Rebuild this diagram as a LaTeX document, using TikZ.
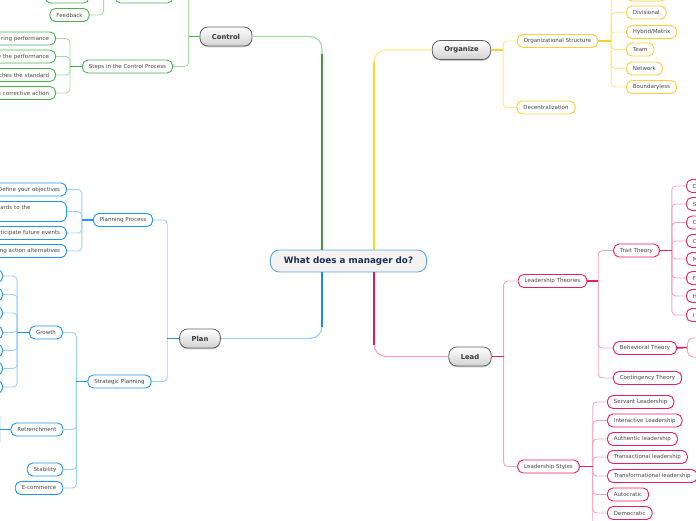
\documentclass[tikz,border=0pt]{standalone}
\usepackage{fontspec}
\setmainfont{DejaVu Sans}
\usepackage{tikz}
\usetikzlibrary{positioning,calc,shadows}

\definecolor{grn}{HTML}{4CAF50}
\definecolor{grnd}{HTML}{3D9B40}
\definecolor{grnl}{HTML}{A9D8A6}
\definecolor{yel}{HTML}{F9CF3A}
\definecolor{yeld}{HTML}{FDD22B}
\definecolor{yell}{HTML}{FDE68D}
\definecolor{blu}{HTML}{2196F3}
\definecolor{blud}{HTML}{1E88E5}
\definecolor{blul}{HTML}{9DD0FA}
\definecolor{pnk}{HTML}{E91E63}
\definecolor{pnkd}{HTML}{E2175C}
\definecolor{pnkl}{HTML}{F5A3C2}
\definecolor{rootblue}{HTML}{5DA5DA}
\definecolor{rootfill}{HTML}{F5F2F2}
\definecolor{rootnavy}{HTML}{1C2D55}

\begin{document}
\begin{tikzpicture}[x=1pt, y=-1pt,
  font=\fontsize{5.5}{6.6}\selectfont,
  rootbox/.style={draw=rootblue, fill=rootfill, line width=0.9pt, rounded corners=9pt, minimum height=22pt, inner xsep=13.5pt, text=rootnavy, font=\fontsize{8.8}{10}\selectfont\bfseries},
  topic/.style={draw=black!62, line width=0.8pt, rounded corners=8pt, top color=white, bottom color=black!18, minimum height=19pt, inner xsep=12pt, text=black!78, font=\fontsize{6.8}{8}\selectfont\bfseries, drop shadow={shadow xshift=0pt, shadow yshift=-1.3pt, opacity=0.45}},
  leaf/.style={draw, fill=white, line width=0.9pt, rounded corners=5.5pt, minimum height=13pt, inner xsep=6.5pt, inner ysep=0pt, text=black!72},
  gleaf/.style={leaf, draw=grn}, yleaf/.style={leaf, draw=yel},
  bleaf/.style={leaf, draw=blu}, pleaf/.style={leaf, draw=pnk},
  lcut/.style={anchor=east, text width=#1, align=right},
  rcut/.style={anchor=west, text width=#1, align=left},
  gline/.style={grnl, line width=0.9pt, rounded corners=4pt}, gstub/.style={grn, line width=1.6pt},
  yline/.style={yell, line width=0.9pt, rounded corners=4pt}, ystub/.style={yel, line width=1.6pt},
  bline/.style={blul, line width=0.9pt, rounded corners=4pt}, bstub/.style={blu, line width=1.6pt},
  pline/.style={pnkl, line width=0.9pt, rounded corners=4pt}, pstub/.style={pnk, line width=1.6pt}
]
\useasboundingbox (0,0) rectangle (696,520);
\clip (0,0) rectangle (696,520);

% centre and main topics
\node[rootbox] (root) at (348.5,261) {What does a manager do?};
\node[topic] (control) at (226,36.5) {Control};
\node[topic] (organize) at (461.5,50) {Organize};
\node[topic] (plan) at (200,338.5) {Plan};
\node[topic] (lead) at (470,356.5) {Lead};

\coordinate (rg) at ($(root.north)+(-26.5,0)$);
\coordinate (ry) at ($(root.north)+(25.5,0)$);
\coordinate (rb) at ($(root.south)+(-26.5,0)$);
\coordinate (rp) at ($(root.south)+(25.5,0)$);
\draw[grnl, line width=1.2pt, rounded corners=12pt] (rg) |- (control.east);
\draw[grnd, line width=1.9pt] (rg) -- ($(rg |- control.south)+(0,8)$);
\draw[yell, line width=1.2pt, rounded corners=12pt] (ry) |- (organize.west);
\draw[yeld, line width=1.9pt] (ry) -- ($(ry |- organize.south)+(0,2)$);
\draw[blul, line width=1.2pt, rounded corners=12pt] (rb) |- (plan.east);
\draw[blud, line width=1.9pt] (rb) -- ($(rb |- plan.north)+(0,-2)$);
\draw[pnkl, line width=1.2pt, rounded corners=12pt] (rp) |- (lead.west);
\draw[pnkd, line width=1.9pt] (rp) -- ($(rp |- lead.north)+(0,-2)$);

% Control
\node[gleaf, minimum width=58pt] (ctrlx) at (144,-3.5) {};
\node[gleaf, minimum width=44pt] (ctrlxa) at (67,-3.5) {};
\node[gleaf] (feedback) at (69.5,15) {Feedback};
\node[gleaf] (steps) at (127.5,66.5) {Steps in the Control Process};
\node[gleaf, lcut=70pt] (st1) at (56,38.5) {ring performance};
\node[gleaf, lcut=70pt] (st2) at (56,56.5) {e the performance};
\node[gleaf, lcut=70pt] (st3) at (56,75) {ches the standard};
\node[gleaf, lcut=70pt] (st4) at (56,93) {e corrective action};

\coordinate (cb) at ($(control.west)+(-11,0)$);
\foreach \n in {ctrlx,steps} \draw[gline] (cb) |- (\n.east);
\draw[gstub] (control.west) -- (cb);
\coordinate (fb) at ($(ctrlx.west)+(-11,0)$);
\foreach \n in {ctrlxa,feedback} \draw[gline] (fb) |- (\n.east);
\draw[gstub] (ctrlx.west) -- (fb);
\coordinate (sb) at ($(steps.west)+(-12,0)$);
\foreach \n in {st1,st2,st3,st4} \draw[gline] (sb) |- (\n.east);
\draw[gstub] (steps.west) -- (sb);

% Organize
\node[yleaf] (orgstruct) at (557.5,41) {Organizational Structure};
\node[yleaf] (decentral) at (546,107.5) {Decentralization};
\node[yleaf, anchor=west, minimum width=40pt] (os0) at (626,-5.5) {};
\node[yleaf, anchor=west] (os1) at (626,12.5) {Divisional};
\node[yleaf, anchor=west] (os2) at (626,32) {Hybrid/Matrix};
\node[yleaf, anchor=west] (os3) at (626,49.5) {Team};
\node[yleaf, anchor=west] (os4) at (626,68.5) {Network};
\node[yleaf, anchor=west] (os5) at (626,87) {Boundaryless};

\coordinate (ob) at ($(organize.east)+(12,0)$);
\foreach \n in {orgstruct,decentral} \draw[yline] (ob) |- (\n.west);
\draw[ystub] (organize.east) -- (ob);
\coordinate (osb) at ($(orgstruct.east)+(13,0)$);
\foreach \n in {os0,os1,os2,os3,os4,os5} \draw[yline] (osb) |- (\n.west);
\draw[ystub] (orgstruct.east) -- (osb);

% Plan
\node[bleaf] (planproc) at (123,220) {Planning Process};
\node[bleaf] (stratplan) at (119.5,381.5) {Strategic Planning};
\node[bleaf, lcut=70pt] (pp1) at (67,189.5) {Define your objectives};
\node[bleaf, lcut=70pt, minimum height=20pt] (pp2) at (67,211.5) {gards to the\rule{29.5pt}{0pt}\\[1pt]\mbox{}};
\node[bleaf, lcut=70pt] (pp3) at (67,233) {ticipate future events};
\node[bleaf, lcut=70pt] (pp4) at (67,251) {ng action alternatives};
\node[bleaf] (growth) at (46,332.5) {Growth};
\node[bleaf] (retrench) at (37,429.5) {Retrenchment};
\node[bleaf] (stability) at (45,469.5) {Stability};
\node[bleaf] (ecommerce) at (39,488) {E-commerce};
\foreach \y [count=\i] in {276,294.5,313,332.5,350.5,368.5,387}
  \node[bleaf, anchor=east, minimum width=40pt] (gr\i) at (3,\y) {};
\node[bleaf, anchor=east, minimum width=40pt] (rt1) at (-12,413) {};
\node[bleaf, anchor=east, minimum width=40pt] (rt2) at (-12,445) {};

\coordinate (pb) at ($(plan.west)+(-12,0)$);
\foreach \n in {planproc,stratplan} \draw[bline] (pb) |- (\n.east);
\draw[bstub] (plan.west) -- (pb);
\coordinate (ppb) at ($(planproc.west)+(-11,0)$);
\foreach \n in {pp1,pp2,pp3,pp4} \draw[bline] (ppb) |- (\n.east);
\draw[bstub] (planproc.west) -- (ppb);
\coordinate (spb) at ($(stratplan.west)+(-11,0)$);
\foreach \n in {growth,retrench,stability,ecommerce} \draw[bline] (spb) |- (\n.east);
\draw[bstub] (stratplan.west) -- (spb);
\coordinate (grb) at ($(growth.west)+(-12,0)$);
\foreach \i in {1,...,7} \draw[bline] (grb) |- (gr\i.east);
\draw[bstub] (growth.west) -- (grb);
\coordinate (rtb) at ($(retrench.west)+(-10.5,0)$);
\foreach \n in {rt1,rt2} \draw[bline] (rtb) |- (\n.east);
\draw[bstub] (retrench.west) -- (rtb);

% Lead
\node[pleaf] (leadtheo) at (552.5,281) {Leadership Theories};
\node[pleaf] (leadstyle) at (548.5,466.5) {Leadership Styles};
\node[pleaf] (trait) at (636.5,250.5) {Trait Theory};
\node[pleaf] (behav) at (645,348) {Behavioral Theory};
\node[pleaf] (conting) at (647.5,378) {Contingency Theory};
\node[leaf, draw=pnkl, anchor=west, minimum width=30pt, minimum height=19pt] (behavx) at (687,347.5) {};
\foreach \t/\y [count=\i] in {D/186,S/204,C/222.5,C/241,M/259,F/278,H/296,I/315}
  \node[pleaf, rcut=30pt] (tr\i) at (686,\y) {\t};
\foreach \t/\y [count=\i] in {Servant Leadership/402,Interactive Leadership/420.5,Authentic leadership/439,Transactional leadership/457,Transformational leadership/476,Autocratic/494.5,Democratic/513,{}/531.5}
  \node[pleaf, anchor=west] (ls\i) at (607,\y) {\t};

\coordinate (lb) at ($(lead.east)+(12,0)$);
\foreach \n in {leadtheo,leadstyle} \draw[pline] (lb) |- (\n.west);
\draw[pstub] (lead.east) -- (lb);
\coordinate (ltb) at ($(leadtheo.east)+(11,0)$);
\foreach \n in {trait,behav,conting} \draw[pline] (ltb) |- (\n.west);
\draw[pstub] (leadtheo.east) -- (ltb);
\coordinate (trb) at ($(trait.east)+(12,0)$);
\foreach \i in {1,...,8} \draw[pline] (trb) |- (tr\i.west);
\draw[pstub] (trait.east) -- (trb);
\draw[pstub] (behav.east) -- (behavx.west);
\coordinate (lsb) at ($(leadstyle.east)+(13,0)$);
\foreach \i in {1,...,8} \draw[pline] (lsb) |- (ls\i.west);
\draw[pstub] (leadstyle.east) -- (lsb);
\end{tikzpicture}
\end{document}
